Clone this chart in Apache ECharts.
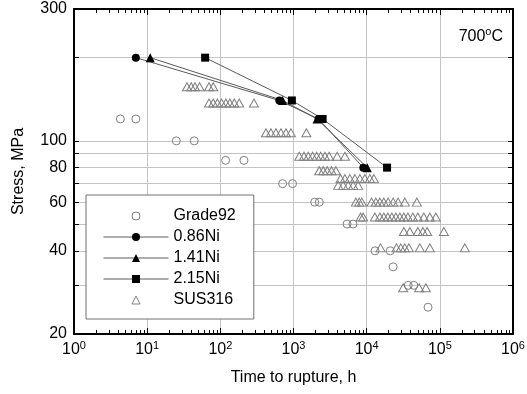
<!DOCTYPE html>
<html>
<head>
<meta charset="utf-8">
<script src="https://cdn.jsdelivr.net/npm/echarts@6/dist/echarts.min.js"></script>
<style>
html, body { margin: 0; padding: 0; background: #fff; }
#chart { width: 527px; height: 394px; }
</style>
</head>
<body>
<div id="chart"></div>
<script>
// creep rupture data at 700C, time in h, stress in MPa
var grade92Time = [4.3, 7, 25, 44, 118, 210, 710, 970, 1950, 2250, 5400, 6500, 13000, 21000, 23000, 37000, 44000, 69000];
var grade92Stress = [120, 120, 100, 100, 85, 85, 70, 70, 60, 60, 50, 50, 40, 40, 35, 30, 30, 25];

var ni086Time = [7, 640, 2200, 9000];
var ni086Stress = [200, 140, 120, 80];
var ni141Time = [11, 710, 2100, 10200];
var ni141Stress = [200, 140, 120, 80];
var ni215Time = [62, 950, 2500, 19000];
var ni215Stress = [200, 140, 120, 80];

// SUS316: one list of times per stress level
var susStress = [157, 137, 107, 88, 78, 73, 69, 60, 53, 47, 41, 29.4];
var susTime = [
    [35, 40, 45, 52, 70, 80],
    [70, 80, 91, 104, 119, 135, 155, 181, 288],
    [420, 491, 575, 673, 788, 921, 1500],
    [1200, 1390, 1590, 1820, 2070, 2350, 2690, 3070, 3950, 5040],
    [2250, 2550, 2890, 3310, 3800],
    [4400, 5040, 5890, 6900, 8070, 9440, 11060, 12540],
    [4080, 4780, 5590, 6540, 7650],
    [7120, 7900, 8600, 11670, 13360, 15150, 17170, 19660, 23030, 26930, 33230, 48500],
    [8260, 8960, 12950, 15150, 17170, 19480, 22090, 25060, 28420, 32230, 36560, 42770, 50030, 60410, 72950, 88100],
    [32230, 38900, 50030, 58600, 67100, 113500],
    [15490, 25600, 29300, 33200, 37700, 53300, 72950, 219600],
    [31550, 52100, 64400]
];

var yTickValues = [20, 30, 40, 50, 60, 70, 80, 90, 100, 200, 300];
var yLabelValues = [20, 40, 60, 80, 100, 300];

var font = 'Liberation Sans';

function lg(v) { return Math.log10(v); }
function pairs(t, s) {
    return t.map(function (v, i) { return [lg(v), lg(s[i])]; });
}

var susData = [];
susStress.forEach(function (s, i) {
    susTime[i].forEach(function (t) { susData.push([lg(t), lg(s)]); });
});

// minor ticks 2..9 in every decade
var xMinor = [];
for (var d = 0; d < 6; d++)
    for (var k = 2; k <= 9; k++)
        xMinor.push(d + lg(k));

var majorTick = { inside: true, length: 6, lineStyle: { color: '#000', width: 1 } };
var minorTick = { inside: true, length: 4, customValues: xMinor, lineStyle: { color: '#000', width: 1 } };
var yTick = { inside: true, length: 5, customValues: yTickValues.map(lg), lineStyle: { color: '#000', width: 1 } };
var boxLine = { show: true, onZero: false, lineStyle: { color: '#000', width: 2 } };
var noLine = { show: false, onZero: false };
var gridLine = { show: true, lineStyle: { color: '#c4c4c4', width: 1 } };

var myChart = echarts.init(document.getElementById('chart'));

var option = {
    animation: false,
    backgroundColor: '#fff',
    grid: { left: 74, right: 14, top: 9, bottom: 60, outerBoundsMode: 'none' },
    xAxis: [
        {
            type: 'value', position: 'bottom', min: 0, max: 6, interval: 1,
            name: 'Time to rupture, h', nameLocation: 'middle', nameGap: 36,
            nameTextStyle: { fontFamily: font, fontSize: 16, color: '#000' },
            axisLine: boxLine, axisTick: majorTick,
            axisLabel: {
                margin: 6,
                formatter: function (v) { return '{b|10}{s|' + v + '}'; },
                rich: {
                    b: { fontFamily: font, fontSize: 16, color: '#000', lineHeight: 20 },
                    s: { fontFamily: font, fontSize: 11, color: '#000', verticalAlign: 'top', lineHeight: 11 }
                }
            },
            splitLine: gridLine
        },
        {
            type: 'value', position: 'bottom', min: 0, max: 6,
            axisLine: noLine, axisTick: minorTick,
            axisLabel: { show: false }, splitLine: { show: false }
        },
        {
            type: 'value', position: 'top', min: 0, max: 6, interval: 1,
            axisLine: boxLine, axisTick: majorTick,
            axisLabel: { show: false }, splitLine: { show: false }
        },
        {
            type: 'value', position: 'top', min: 0, max: 6,
            axisLine: noLine, axisTick: minorTick,
            axisLabel: { show: false }, splitLine: { show: false }
        }
    ],
    yAxis: [
        {
            type: 'value', position: 'left', min: lg(20), max: lg(300),
            name: 'Stress, MPa', nameLocation: 'middle', nameGap: 47,
            nameTextStyle: { fontFamily: font, fontSize: 16, color: '#000' },
            axisLine: boxLine, axisTick: yTick,
            axisLabel: {
                margin: 7, fontFamily: font, fontSize: 16, color: '#000',
                customValues: yLabelValues.map(lg),
                formatter: function (v) { return Math.round(Math.pow(10, v)); }
            },
            splitLine: gridLine
        },
        {
            type: 'value', position: 'right', min: lg(20), max: lg(300),
            axisLine: boxLine, axisTick: yTick,
            axisLabel: { show: false }, splitLine: { show: false }
        }
    ],
    legend: {
        orient: 'vertical', left: 86, top: 195,
        padding: [13, 18, 11, 17], itemGap: 5, itemWidth: 65, itemHeight: 10,
        backgroundColor: '#fff', borderColor: '#707070', borderWidth: 1,
        selectedMode: false,
        textStyle: { fontFamily: font, fontSize: 16, color: '#000' },
        lineStyle: { width: 1 },
        data: [
            { name: 'Grade92', itemStyle: { borderWidth: 1 } },
            '0.86Ni', '1.41Ni', '2.15Ni',
            { name: 'SUS316', itemStyle: { borderWidth: 1 } }
        ]
    },
    graphic: [{
        type: 'text', right: 24, top: 26,
        style: {
            text: '{a|700}{s|o}{a|C}',
            rich: {
                a: { fontFamily: font, fontSize: 16, fill: '#000', lineHeight: 22 },
                s: { fontFamily: font, fontSize: 11, fill: '#000', verticalAlign: 'top', lineHeight: 12 }
            }
        }
    }],
    series: [
        {
            name: 'Grade92', type: 'line', data: pairs(grade92Time, grade92Stress),
            symbol: 'circle', symbolSize: 8, showAllSymbol: true,
            lineStyle: { color: 'transparent', width: 0 },
            itemStyle: { color: 'transparent', borderColor: '#808080', borderWidth: 1 }, z: 2
        },
        {
            name: 'SUS316', type: 'line', data: susData,
            symbol: 'triangle', symbolSize: [9, 8], showAllSymbol: true,
            lineStyle: { color: 'transparent', width: 0 },
            itemStyle: { color: 'transparent', borderColor: '#808080', borderWidth: 1 }, z: 2
        },
        {
            name: '0.86Ni', type: 'line', data: pairs(ni086Time, ni086Stress),
            symbol: 'circle', symbolSize: 8,
            lineStyle: { color: '#5a5a5a', width: 1 }, itemStyle: { color: '#000' }, z: 4
        },
        {
            name: '1.41Ni', type: 'line', data: pairs(ni141Time, ni141Stress),
            symbol: 'triangle', symbolSize: 9,
            lineStyle: { color: '#5a5a5a', width: 1 }, itemStyle: { color: '#000' }, z: 4
        },
        {
            name: '2.15Ni', type: 'line', data: pairs(ni215Time, ni215Stress),
            symbol: 'rect', symbolSize: 8,
            lineStyle: { color: '#5a5a5a', width: 1 }, itemStyle: { color: '#000' }, z: 4
        }
    ]
};
myChart.setOption(option);
</script>
</body>
</html>
